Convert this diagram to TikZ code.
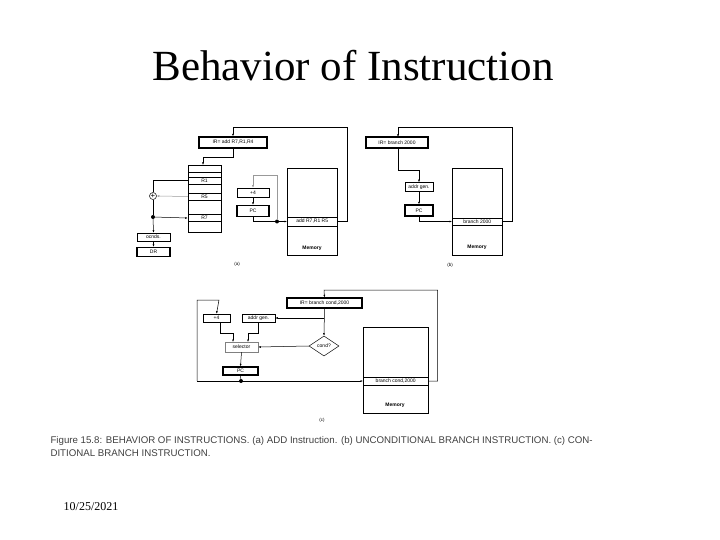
\documentclass[tikz,border=0pt]{standalone}
\usepackage{fontspec}
\setmainfont{Liberation Serif}
\newfontfamily\dsans{Liberation Sans}
\usetikzlibrary{arrows.meta,shapes.geometric}
\begin{document}
\begin{tikzpicture}[x=1pt,y=-1pt,
  box/.style={draw,line width=0.5pt,inner sep=0pt,font=\dsans\fontsize{5}{5}\selectfont},
  thick box/.style={box,line width=1.3pt},
  ln/.style={line width=0.5pt},
  ar/.style={ln,-{Latex[length=2.5pt,width=2pt]}},
  dot/.style={circle,fill,inner sep=0pt,minimum size=4pt},
  lbl/.style={font=\dsans\fontsize{4.5}{5}\selectfont}]
\useasboundingbox (0,0) rectangle (720,540);
\node[font=\fontsize{43}{48}\selectfont] (title) at (353,66) {Behavior of Instruction};
\node[font=\fontsize{12}{14}\selectfont] (date) at (91,507) {10/25/2021};
\node[anchor=north west,align=left,text=black!75,font=\dsans\fontsize{9.7}{12.5}\selectfont] (cap) at (47,433)
 {Figure 15.8: BEHAVIOR OF INSTRUCTIONS. (a) ADD Instruction. (b) UNCONDITIONAL BRANCH INSTRUCTION. (c) CON-\\DITIONAL BRANCH INSTRUCTION.};
% ---------- (a)
\node[thick box,minimum width=68pt,minimum height=11pt] (irA) at (233,142.5) {IR= add R7,R1,R4};
\draw[ln] (188,165) rectangle (221,232);
\node[box,minimum width=33pt,minimum height=7pt] (r1) at (204.5,180.5) {R1};
\node[box,minimum width=33pt,minimum height=7pt] (r5) at (204.5,196.5) {R5};
\node[box,minimum width=33pt,minimum height=7pt] (r7) at (204.5,218) {R7};
\draw[ln] (188,172)--(221,172);
\coordinate (regtop) at (203,165);
\node[draw,circle,ln,inner sep=0pt,minimum size=7pt,font=\bfseries\fontsize{8}{8}\selectfont] (add) at (153,196) {+};
\node[dot] (dA) at (153,217) {};
\node[box,minimum width=33pt,minimum height=8pt] (oc) at (153.5,237) {ocnds.};
\node[thick box,minimum width=33pt,minimum height=9pt] (orA) at (153.5,252) {DR};
\node[box,minimum width=32pt,minimum height=9pt] (p4A) at (253,192.5) {+4};
\node[thick box,minimum width=32pt,minimum height=11pt] (pcA) at (253,211) {PC};
\draw[ln] (287,168) rectangle (337,255);
\node[box,minimum width=50pt,minimum height=9pt,anchor=west] (rowA) at (287,221.5) {add R7,R1 R5};
\node[lbl,font=\dsans\bfseries\fontsize{5}{5}\selectfont] (memA) at (312,248) {Memory};
\node[dot] (dA2) at (277,221.5) {};
\node[lbl] (la) at (237,264) {(a)};
\draw[ar] (rowA.east) -- ++(10,0) |- (233,127) -- (irA.north);
\draw[ar] (irA.south) |- (203,157) -- (regtop);
\draw[ln] (r1.west) -| (add.north);
\draw[ar,black!40] (r5.west) -- (add.east);
\draw[ln] (add.south) -- (dA);
\draw[ar] (dA) -- (r7.west);
\draw[ar] (dA) -- (oc.north);
\draw[ar] (oc.south) -- (orA.north);
\draw[ln] (pcA.south) |- (dA2);
\draw[ar] (dA2) -- (rowA.west);
\draw[ar,black!40] (dA2) |- (253,175) -- (p4A.north);
\draw[ar] (p4A.south) -- (pcA.north);
% ---------- (b)
\node[thick box,minimum width=62pt,minimum height=11pt] (irB) at (397,142.5) {IR= branch 2000};
\node[box,minimum width=28pt,minimum height=9pt] (agB) at (419,187) {addr gen.};
\node[thick box,minimum width=28pt,minimum height=11pt] (pcB) at (419,210.5) {PC};
\draw[ln] (452,168) rectangle (502,255);
\node[box,minimum width=50pt,minimum height=7pt,anchor=west] (rowB) at (452,221.5) {branch 2000};
\node[lbl,font=\dsans\bfseries\fontsize{5}{5}\selectfont] (memB) at (477,247) {Memory};
\node[lbl] (lb) at (450,265) {(b)};
\draw[ar] (rowB.east) -- ++(10,0) |- (398,127) -- (398,137);
\draw[ar] (398,148) |- (419,170) -- (agB.north);
\draw[ar] (agB.south) -- (pcB.north);
\draw[ar] (pcB.south) |- (rowB.west);
% ---------- (c)
\node[thick box,minimum width=75pt,minimum height=10pt] (irC) at (324.5,303) {IR= branch cond,2000};
\node[box,minimum width=27pt,minimum height=8pt] (p4C) at (216.5,318) {+4};
\node[box,minimum width=33pt,minimum height=8pt] (agC) at (258.5,318) {addr gen.};
\node[box,draw=black!50,minimum width=33pt,minimum height=10pt] (selC) at (241.5,347) {selector};
\node[thick box,minimum width=35pt,minimum height=8pt] (pcC) at (240.5,371) {PC};
\node[draw,ln,diamond,aspect=1.5,inner sep=0pt,minimum width=30pt,minimum height=20pt,font=\dsans\fontsize{5}{5}\selectfont] (cond) at (324,346) {cond?};
\draw[ln] (363,327) rectangle (428,413);
\node[box,minimum width=65pt,minimum height=8pt,anchor=west] (rowC) at (363,381) {branch cond,2000};
\node[lbl,font=\dsans\bfseries\fontsize{5}{5}\selectfont] (memC) at (395,405) {Memory};
\node[dot] (dC) at (241,381) {};
\coordinate (lc) at (197,381);
\node[lbl] (lcl) at (322,420) {(c)};
\draw[ar] (rowC.east) -- ++(9,0) |- (324,290) -- (irC.north);
\draw[ar] (irC.south) -- (cond.north);
\draw[ar] (324,318) -- (agC.east);
\draw[ar] (cond.west) -- (selC.east);
\draw[ar] (220,322) |- (233,333) -- (233,342);
\draw[ar] (258,322) |- (248,333) -- (248,342);
\draw[ar] (selC.south) -- (pcC.north);
\draw[ln] (pcC.south) -- (dC);
\draw[ar] (lc) -- (rowC.west);
\draw[ar] (lc) |- (219,300) -- (p4C.north);
\end{tikzpicture}
\end{document}
